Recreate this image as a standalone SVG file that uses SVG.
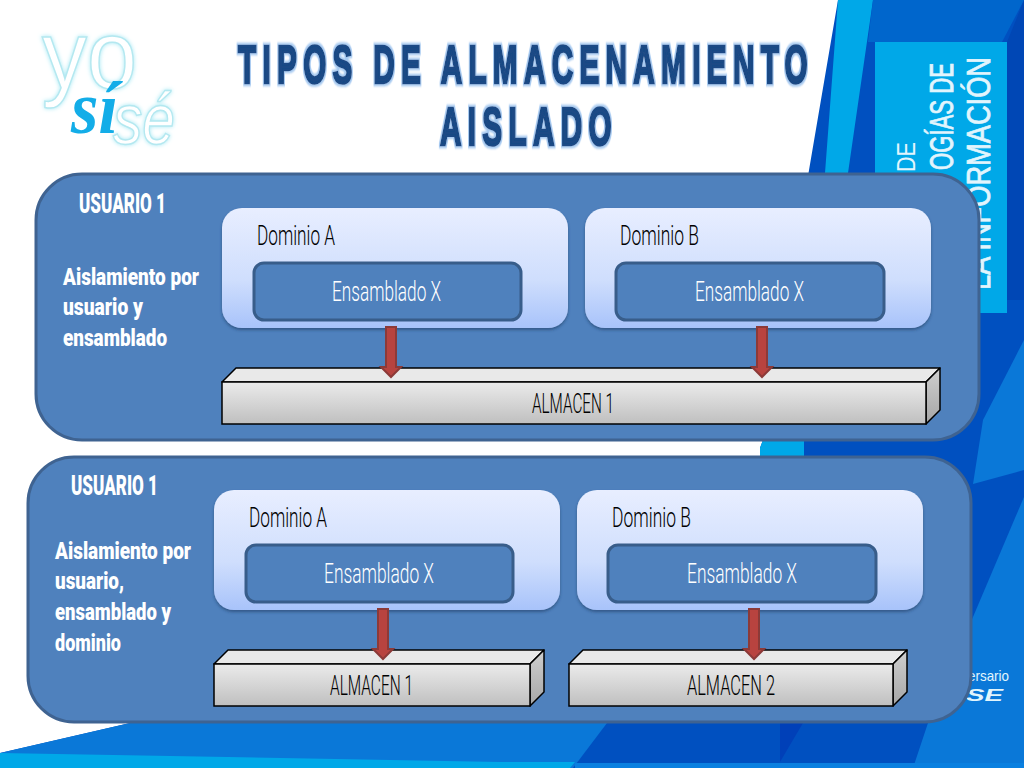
<svg xmlns="http://www.w3.org/2000/svg" width="1024" height="768" viewBox="0 0 1024 768">
<style>
text{font-family:Roboto,"Liberation Sans",sans-serif}
.panel{fill:#4f81bd;stroke:#3f6391;stroke-width:3}
.domain{fill:url(#gd);filter:url(#sh)}
.inner{fill:#4f81bd;stroke:#385d8a;stroke-width:3}
.top{fill:#e9e9e9;stroke:#000;stroke-width:1.5;stroke-linejoin:round}
.front{fill:url(#gf);stroke:#000;stroke-width:1.5}
.side{fill:url(#gs);stroke:#000;stroke-width:1.5;stroke-linejoin:round}
.lbl{font-size:28px;font-weight:300;fill:#000}
.ens{font-size:28px;font-weight:300;fill:#fff}
.alm{font-size:27px;font-weight:300;fill:#000}
.usr{font-size:27px;font-weight:900;fill:#fff}
.note{font-size:24px;font-weight:900;fill:#fff}
.title{font-family:"Liberation Sans",sans-serif;font-size:54px;font-weight:700;fill:#1a4a85;stroke:#1a4a85;stroke-width:2.5;letter-spacing:11.5px;filter:url(#tg)}
.arrow{fill:#b8433f;stroke:#8c3a38;stroke-width:2}
.bgt{font-family:"Liberation Sans",sans-serif;fill:#e2f5fd}
.bgb{stroke:#e2f5fd;stroke-width:.8}
.logo{fill:#fff;stroke:#b4e8f0;stroke-width:1.5;filter:url(#gl)}
</style>
<defs>
<linearGradient id="gd" x1="0" y1="0" x2="0" y2="1"><stop offset="0" stop-color="#e8eeff"/><stop offset=".6" stop-color="#cfdefd"/><stop offset="1" stop-color="#a8c3fa"/></linearGradient>
<linearGradient id="gf" x1="0" y1="0" x2="0" y2="1"><stop offset="0" stop-color="#ebebeb"/><stop offset="1" stop-color="#bfbfbf"/></linearGradient>
<linearGradient id="gs" x1="0" y1="0" x2="0" y2="1"><stop offset="0" stop-color="#cfcfcf"/><stop offset="1" stop-color="#a6a6a6"/></linearGradient>
<filter id="sh" x="-5%" y="-5%" width="110%" height="115%"><feDropShadow dx="0" dy="2" stdDeviation="1.5" flood-color="#1f3d66" flood-opacity=".6"/></filter>
<filter id="gl" x="-20%" y="-20%" width="140%" height="140%"><feDropShadow dx="0" dy="0" stdDeviation="2" flood-color="#7fe0f0" flood-opacity=".7"/></filter>
<filter id="tg" x="-5%" y="-15%" width="110%" height="130%"><feMorphology in="SourceAlpha" operator="dilate" radius="2.5 1.5" result="d"/><feGaussianBlur in="d" stdDeviation=".8" result="b"/><feFlood flood-color="#a4c8f0"/><feComposite in2="b" operator="in" result="g"/><feMerge><feMergeNode in="g"/><feMergeNode in="SourceGraphic"/></feMerge></filter>
</defs>

<g id="background">
<rect width="1024" height="768" fill="#fff"/>
<polygon points="838,0 1024,0 1024,768 0,768 0,753 130,723 740,500 763,440" fill="#0050c0"/>
<polygon points="838,0 873,0 848,173 804,440 804,456 757,456 763,440 825,173" fill="#00a8e8"/>
<polygon points="873,0 1024,0 1002,42 868,42" fill="#0066cc"/>
<polygon points="1024,0 1024,300 1007,300 1007,42" fill="#0047b5"/>
<rect x="600" y="442" width="160" height="14" fill="#fff"/>
<polygon points="983,420 1024,340 1024,470 973,484" fill="#0a78d8"/>
<polygon points="1024,497 928,723 913,768 1024,768" fill="#0a78d8"/>
<polygon points="0,753 130,723 607,723 573,768 0,768" fill="#0a78d8"/>
<polygon points="0,753 500,762 575,762 570,768 0,768" fill="#00a8e8"/>
<polygon points="780,723 803,723 780,762" fill="#0040b8"/>
<rect x="575" y="763" width="449" height="5" fill="#0a80e0"/>
<rect x="875" y="42" width="132" height="271" fill="#00a8e8"/>
<text class="bgt" font-size="26" transform="translate(915,172) rotate(-90)" textLength="30" lengthAdjust="spacingAndGlyphs">DE</text>
<text class="bgt bgb" font-size="34" transform="translate(953,170) rotate(-90)" textLength="107" lengthAdjust="spacingAndGlyphs">OGÍAS DE</text>
<text class="bgt bgb" font-size="34" transform="translate(990,290) rotate(-90)" textLength="233" lengthAdjust="spacingAndGlyphs">LA INFORMACIÓN</text>
<text class="bgt" font-size="15" x="968" y="681" textLength="41" lengthAdjust="spacingAndGlyphs">ersario</text>
<text class="bgt" font-size="17" font-weight="700" font-style="italic" x="966" y="701" fill="#fff" textLength="37" lengthAdjust="spacingAndGlyphs">SE</text>
</g>

<g id="logo">
<text class="logo" x="42" y="88" font-size="96" textLength="95" lengthAdjust="spacingAndGlyphs" style="font-family:'Liberation Sans',sans-serif">yo</text>
<text class="logo" x="113" y="144" font-size="72" font-style="italic" textLength="62" lengthAdjust="spacingAndGlyphs" style="font-family:'Liberation Sans',sans-serif">sé</text>
<text x="71" y="133" font-size="74" font-weight="700" font-style="italic" fill="#13ade8" textLength="47" lengthAdjust="spacingAndGlyphs" style="font-family:'Liberation Serif',serif">sí</text>
</g>

<g id="title">
<text class="title" transform="translate(238,83) scale(.55,1)">TIPOS DE ALMACENAMIENTO</text>
<text class="title" transform="translate(440,145) scale(.55,1)">AISLADO</text>
</g>

<g id="panel-1">
<rect class="panel" x="36" y="174" width="943" height="266" rx="46"/>
<text class="usr" x="79" y="213" textLength="87" lengthAdjust="spacingAndGlyphs">USUARIO 1</text>
<text class="note" x="63" y="285" textLength="136" lengthAdjust="spacingAndGlyphs">Aislamiento por</text>
<text class="note" x="63" y="315" textLength="80" lengthAdjust="spacingAndGlyphs">usuario y</text>
<text class="note" x="63" y="346" textLength="104" lengthAdjust="spacingAndGlyphs">ensamblado</text>
</g>
<g id="p1-dominio-a">
<rect class="domain" x="222" y="208" width="346" height="120" rx="20"/>
<text class="lbl" x="257" y="245" textLength="78" lengthAdjust="spacingAndGlyphs">Dominio A</text>
<rect class="inner" x="254" y="263" width="267" height="57" rx="10"/>
<text class="ens" x="332" y="301" textLength="109" lengthAdjust="spacingAndGlyphs">Ensamblado X</text>
</g>
<g id="p1-dominio-b">
<rect class="domain" x="585" y="208" width="346" height="120" rx="20"/>
<text class="lbl" x="620" y="245" textLength="79" lengthAdjust="spacingAndGlyphs">Dominio B</text>
<rect class="inner" x="616" y="263" width="268" height="57" rx="10"/>
<text class="ens" x="695" y="301" textLength="109" lengthAdjust="spacingAndGlyphs">Ensamblado X</text>
</g>
<g id="p1-almacen-1">
<polygon class="top" points="222,382 236,368 940,368 926,382"/>
<polygon class="side" points="926,382 940,368 940,410 926,424"/>
<rect class="front" x="222" y="382" width="704" height="42"/>
<text class="alm" x="532" y="413" textLength="82" lengthAdjust="spacingAndGlyphs">ALMACEN 1</text>
</g>

<g id="panel-2">
<rect class="panel" x="28" y="457" width="943" height="265" rx="46"/>
<text class="usr" x="71" y="495" textLength="87" lengthAdjust="spacingAndGlyphs">USUARIO 1</text>
<text class="note" x="55" y="559" textLength="136" lengthAdjust="spacingAndGlyphs">Aislamiento por</text>
<text class="note" x="55" y="589" textLength="69" lengthAdjust="spacingAndGlyphs">usuario,</text>
<text class="note" x="55" y="620" textLength="116" lengthAdjust="spacingAndGlyphs">ensamblado y</text>
<text class="note" x="55" y="651" textLength="66" lengthAdjust="spacingAndGlyphs">dominio</text>
</g>
<g id="p2-dominio-a">
<rect class="domain" x="214" y="490" width="346" height="120" rx="20"/>
<text class="lbl" x="249" y="527" textLength="78" lengthAdjust="spacingAndGlyphs">Dominio A</text>
<rect class="inner" x="246" y="545" width="267" height="57" rx="10"/>
<text class="ens" x="324" y="583" textLength="110" lengthAdjust="spacingAndGlyphs">Ensamblado X</text>
</g>
<g id="p2-dominio-b">
<rect class="domain" x="577" y="490" width="346" height="120" rx="20"/>
<text class="lbl" x="612" y="527" textLength="79" lengthAdjust="spacingAndGlyphs">Dominio B</text>
<rect class="inner" x="608" y="545" width="268" height="57" rx="10"/>
<text class="ens" x="687" y="583" textLength="110" lengthAdjust="spacingAndGlyphs">Ensamblado X</text>
</g>
<g id="p2-almacen-1">
<polygon class="top" points="214,664 228,650 544,650 530,664"/>
<polygon class="side" points="530,664 544,650 544,692 530,706"/>
<rect class="front" x="214" y="664" width="316" height="42"/>
<text class="alm" x="330" y="695" textLength="83" lengthAdjust="spacingAndGlyphs">ALMACEN 1</text>
</g>
<g id="p2-almacen-2">
<polygon class="top" points="569,664 583,650 907,650 893,664"/>
<polygon class="side" points="893,664 907,650 907,692 893,706"/>
<rect class="front" x="569" y="664" width="324" height="42"/>
<text class="alm" x="687" y="695" textLength="88" lengthAdjust="spacingAndGlyphs">ALMACEN 2</text>
</g>

<g id="connectors">
<polygon class="arrow" points="386,327 396,327 396,367 401,367 391,377 381,367 386,367"/>
<polygon class="arrow" points="757,327 767,327 767,367 772,367 762,377 752,367 757,367"/>
<polygon class="arrow" points="378,609 388,609 388,649 393,649 383,659 373,649 378,649"/>
<polygon class="arrow" points="749,609 759,609 759,649 764,649 754,659 744,649 749,649"/>
</g>
</svg>
